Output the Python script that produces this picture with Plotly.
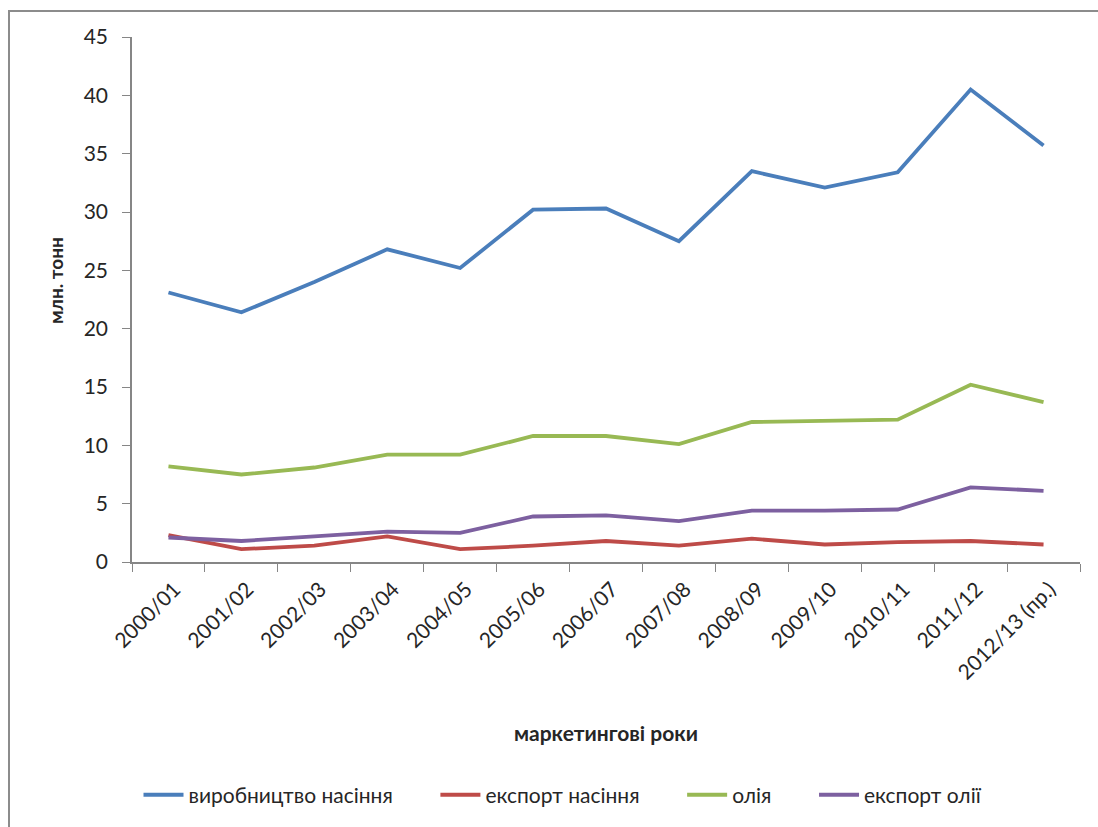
import plotly.graph_objects as go

years = ["2000/01", "2001/02", "2002/03", "2003/04", "2004/05", "2005/06", "2006/07",
         "2007/08", "2008/09", "2009/10", "2010/11", "2011/12", "2012/13 (пр.)"]
seed_production = [23.1, 21.4, 24.0, 26.8, 25.2, 30.2, 30.3, 27.5, 33.5, 32.1, 33.4, 40.5, 35.7]
seed_export = [2.3, 1.1, 1.4, 2.2, 1.1, 1.4, 1.8, 1.4, 2.0, 1.5, 1.7, 1.8, 1.5]
oil = [8.2, 7.5, 8.1, 9.2, 9.2, 10.8, 10.8, 10.1, 12.0, 12.1, 12.2, 15.2, 13.7]
oil_export = [2.1, 1.8, 2.2, 2.6, 2.5, 3.9, 4.0, 3.5, 4.4, 4.4, 4.5, 6.4, 6.1]

names = ["виробництво насіння", "експорт насіння", "олія", "експорт олії"]
colors = ["#4A7EBB", "#BE4B48", "#98B954", "#7D60A0"]
series = [seed_production, seed_export, oil, oil_export]

FONT = "Lato, 'Open Sans', sans-serif"
TXT = "#262626"
PAD = "\u00a0" * 7

fig = go.Figure()
for i, (n, c, s) in enumerate(zip(names, colors, series)):
    label = n + (PAD if i < len(names) - 1 else "")
    fig.add_trace(go.Scatter(x=years, y=s, name=label, mode="lines",
                             line=dict(color=c, width=3.8)))

W, H = 1098, 827
L, R, T, B = 132, 18, 37, 263
pw, ph = W - L - R, H - T - B

def px(x):
    return (x - L) / pw

def py(y):
    return (H - B - y) / ph

fig.update_layout(
    width=W, height=H,
    margin=dict(l=L, r=R, t=T, b=B),
    paper_bgcolor="white", plot_bgcolor="white",
    font=dict(family=FONT, size=21, color=TXT),
    showlegend=True,
    legend=dict(orientation="h", x=px(563), xanchor="center", y=py(798), yanchor="middle",
                font=dict(size=21, color=TXT), itemwidth=40, tracegroupgap=0,
                traceorder="normal"),
    xaxis=dict(type="category", range=[-0.5, len(years) - 0.5], showgrid=False,
               showline=True, linecolor="#868686",
               linewidth=1.5, ticks="outside", tickson="boundaries", ticklen=8,
               tickcolor="#868686", tickangle=-45, tickfont=dict(size=21, color=TXT),
               ticklabelstandoff=5, ticklabelshift=6, zeroline=False),
    yaxis=dict(range=[0, 45], dtick=5, showgrid=False, showline=True, linecolor="#868686",
               linewidth=1.5, ticks="outside", ticklen=8, tickcolor="#868686",
               tickfont=dict(size=21, color=TXT), ticklabelstandoff=10, zeroline=False),
    annotations=[
        dict(text="<b>маркетингові роки</b>", xref="paper", yref="paper",
             x=0.5, y=py(735), xanchor="center", yanchor="middle", showarrow=False,
             font=dict(size=21, color=TXT, family=FONT)),
        dict(text="<b>млн. тонн</b>", xref="paper", yref="paper",
             x=px(55), y=py(282), xanchor="center", yanchor="middle", showarrow=False,
             textangle=-90, font=dict(size=19, color=TXT, family=FONT)),
    ],
    shapes=[
        dict(type="rect", xref="paper", yref="paper",
             x0=px(9), x1=px(1120), y0=py(850), y1=py(11),
             line=dict(color="#8C8C8C", width=2), fillcolor="rgba(0,0,0,0)", layer="below"),
    ],
)

fig.write_html("out.html", config={"displayModeBar": False},
               post_script="document.body.style.margin='0';")
